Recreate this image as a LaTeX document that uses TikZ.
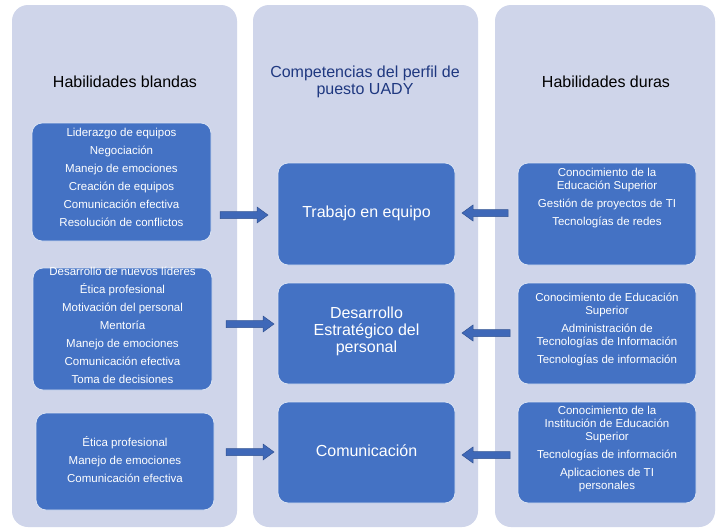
\documentclass[tikz,border=0pt]{standalone}
\usepackage{fontspec}
\setmainfont{Liberation Sans}
\usetikzlibrary{arrows.meta}
\definecolor{colbg}{HTML}{CFD5EA}
\definecolor{boxblue}{HTML}{4472C4}
\definecolor{arrblue}{HTML}{3F68B8}
\definecolor{titblue}{HTML}{1F3880}
\tikzset{x=1pt,y=-1pt,
 col/.style={fill=colbg,rounded corners=16pt},
 bx/.style={fill=boxblue,draw=white!80!boxblue,line width=0.8pt,rounded corners=10pt},
 txt/.style={text=white,align=center,font=\fontsize{11.5}{13}\selectfont,inner sep=0pt},
 mid/.style={text=white,align=center,font=\fontsize{16}{17}\selectfont,inner sep=0pt},
 hdr/.style={align=center,font=\fontsize{16}{17}\selectfont,inner sep=0pt},
 blk/.style={draw=arrblue!80!black,line width=0.5pt,fill=arrblue},
}
\newcommand{\blockarrow}[3]{% from x, to x, y
 \filldraw[blk] (#1,#3-3.5) -- ({#2-(#2-#1)/abs(#2-#1)*11},#3-3.5) -- ({#2-(#2-#1)/abs(#2-#1)*11},#3-8) -- (#2,#3) -- ({#2-(#2-#1)/abs(#2-#1)*11},#3+8) -- ({#2-(#2-#1)/abs(#2-#1)*11},#3+3.5) -- (#1,#3+3.5) -- cycle;}
\begin{document}
\begin{tikzpicture}
\useasboundingbox (0,0) rectangle (721,530);
\fill[white] (0,0) rectangle (721,530);
\fill[col] (12,5) rectangle (237,527);
\fill[col] (253,5) rectangle (478,527);
\fill[col] (495,5) rectangle (715,527);
\node[hdr] (h1) at (125,82) {Habilidades blandas};
\node[hdr,text=titblue] (h2) at (365,82) {Competencias del perfil de\\puesto UADY};
\node[hdr] (h3) at (606,82) {Habilidades duras};
% left boxes
\draw[bx] (32,123) rectangle (211,241); \node (l1) at (121.5,182) {};
\node[txt,anchor=north] at (121.5,128) {Liderazgo de equipos\\[5pt]Negociación\\[5pt]Manejo de emociones\\[5pt]Creación de equipos\\[5pt]Comunicación efectiva\\[5pt]Resolución de conflictos};
\draw[bx] (33,268) rectangle (212,390);
\node[txt,anchor=north] at (122.5,267) {Desarrollo de nuevos líderes\\[5pt]Ética profesional\\[5pt]Motivación del personal\\[5pt]Mentoría\\[5pt]Manejo de emociones\\[5pt]Comunicación efectiva\\[5pt]Toma de decisiones};
\draw[bx] (36,413) rectangle (214,510);
\node[txt,anchor=north] at (125,436) {Ética profesional\\[5pt]Manejo de emociones\\[5pt]Comunicación efectiva};
% middle
\draw[bx] (278,163) rectangle (455,265); \node[mid] (m1) at (366.5,213) {Trabajo en equipo};
\draw[bx] (278,283) rectangle (455,384); \node[mid] (m2) at (366.5,331) {Desarrollo\\Estratégico del\\personal};
\draw[bx] (278,402) rectangle (455,503); \node[mid] (m3) at (366.5,451) {Comunicación};
% right
\draw[bx] (518,163) rectangle (696,265);
\node[txt,anchor=north] at (607,168) {Conocimiento de la\\Educación Superior\\[5pt]Gestión de proyectos de TI\\[5pt]Tecnologías de redes};
\draw[bx] (518,283) rectangle (696,384);
\node[txt,anchor=north] at (607,293) {Conocimiento de Educación\\Superior\\[5pt]Administración de\\Tecnologías de Información\\[5pt]Tecnologías de información};
\draw[bx] (518,402) rectangle (696,503);
\node[txt,anchor=north] at (607,406) {Conocimiento de la\\Institución de Educación\\Superior\\[5pt]Tecnologías de información\\[5pt]Aplicaciones de TI\\personales};
% arrows
\blockarrow{220}{268}{215}
\blockarrow{226}{274}{324}
\blockarrow{226}{274}{452}
\blockarrow{508}{462}{213}
\blockarrow{510}{462}{333}
\blockarrow{510}{462}{455}
\end{tikzpicture}
\end{document}
